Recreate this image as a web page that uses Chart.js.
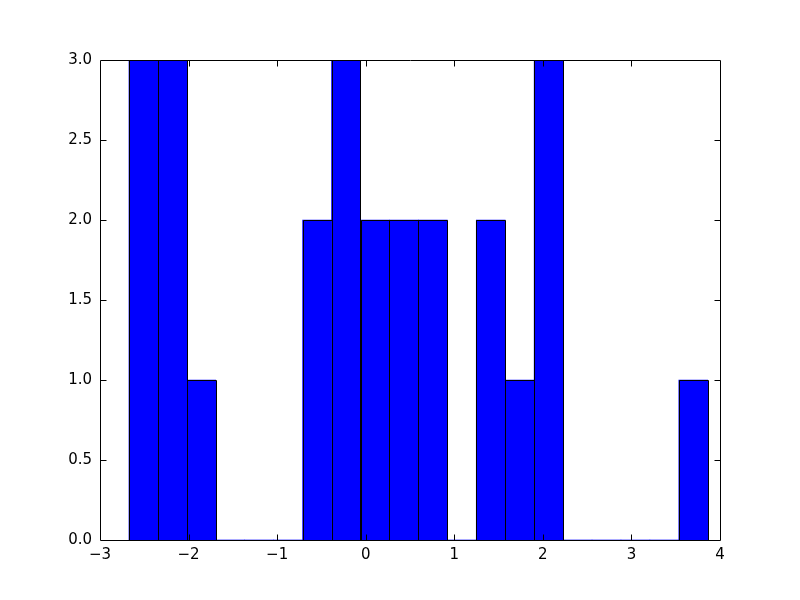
<!DOCTYPE html>
<html>
<head>
<meta charset="utf-8">
<script src="https://cdn.jsdelivr.net/npm/chart.js@4"></script>
<style>
  html, body { margin: 0; padding: 0; background: #fff; }
  #wrap { width: 800px; height: 600px; }
</style>
</head>
<body>
<div id="wrap"><canvas id="c" width="800" height="600"></canvas></div>
<script>
// Histogram bin edges
const binEdges = [-2.673, -2.346, -2.019, -1.693, -1.366, -1.039, -0.712, -0.386, -0.059, 0.268,
                  0.595, 0.921, 1.248, 1.575, 1.902, 2.228, 2.555, 2.882, 3.208, 3.535, 3.862];
// Counts per bin
const counts = [3, 3, 1, 0, 0, 0, 2, 3, 2, 2, 2, 0, 2, 1, 3, 0, 0, 0, 0, 1];
// Axis ticks
const xTicks = [-3, -2, -1, 0, 1, 2, 3, 4];
const yTicks = [0, 0.5, 1, 1.5, 2, 2.5, 3];

const points = counts.map((c, i) => ({ x: (binEdges[i] + binEdges[i + 1]) / 2, y: c }));

const FONT = { family: 'DejaVu Sans', size: 15 };

// Crisp 1px black outlines around each bar, taken from the bar elements
const barEdgePlugin = {
  id: 'barEdges',
  afterDatasetsDraw(chart) {
    const { ctx } = chart;
    const meta = chart.getDatasetMeta(0);
    ctx.save();
    ctx.strokeStyle = '#000';
    ctx.lineWidth = 1;
    meta.data.forEach((bar, i) => {
      if (!counts[i]) return;
      const p = bar.getProps(['x', 'y', 'base', 'width'], true);
      const l = Math.round(p.x - p.width / 2) + 0.5;
      const r = Math.round(p.x + p.width / 2) + 0.5;
      const t = Math.round(p.y) + 0.5;
      const b = Math.round(p.base) + 0.5;
      ctx.beginPath();
      ctx.rect(l, t, r - l, b - t);
      ctx.stroke();
    });
    ctx.restore();
  }
};

const framePlugin = {
  id: 'frame',
  afterDraw(chart) {
    const { ctx, chartArea: a, scales } = chart;
    ctx.save();
    ctx.strokeStyle = '#000';
    ctx.lineWidth = 1;
    const L = Math.round(a.left) + 0.5, R = Math.round(a.right) + 0.5;
    const T = Math.round(a.top) + 0.5, B = Math.round(a.bottom) + 0.5;
    ctx.beginPath();
    ctx.rect(L, T, R - L, B - T);
    ctx.stroke();
    const tl = 6;
    ctx.beginPath();
    xTicks.forEach(v => {
      const px = Math.round(scales.x.getPixelForValue(v)) + 0.5;
      if (px <= L || px >= R) return;
      ctx.moveTo(px, B); ctx.lineTo(px, B - tl);
      ctx.moveTo(px, T); ctx.lineTo(px, T + tl);
    });
    yTicks.forEach(v => {
      const py = Math.round(scales.y.getPixelForValue(v)) + 0.5;
      if (py <= T || py >= B) return;
      ctx.moveTo(L, py); ctx.lineTo(L + tl, py);
      ctx.moveTo(R, py); ctx.lineTo(R - tl, py);
    });
    ctx.stroke();
    ctx.restore();
  }
};

new Chart(document.getElementById('c'), {
  type: 'bar',
  data: {
    datasets: [{
      data: points,
      backgroundColor: '#0000ff',
      borderWidth: 0,
      barPercentage: 1,
      categoryPercentage: 1
    }]
  },
  options: {
    responsive: false,
    animation: false,
    devicePixelRatio: 1,
    layout: { padding: { left: 0, top: 60, right: 80, bottom: 0 } },
    plugins: { legend: { display: false }, tooltip: { enabled: false } },
    scales: {
      x: {
        type: 'linear',
        offset: false,
        min: -3, max: 4,
        afterFit(s) { s.height = 60; },
        afterBuildTicks(s) { s.ticks = xTicks.map(v => ({ value: v })); },
        grid: { display: false, drawTicks: false, offset: false },
        border: { display: false },
        ticks: {
          color: '#000', font: FONT, padding: 6, maxRotation: 0, autoSkip: false,
          callback: (v) => String(v).replace('-', '\u2212')
        }
      },
      y: {
        type: 'linear',
        min: 0, max: 3,
        afterFit(s) { s.width = 100; },
        afterBuildTicks(s) { s.ticks = yTicks.map(v => ({ value: v })); },
        grid: { display: false, drawTicks: false },
        border: { display: false },
        ticks: {
          color: '#000', font: FONT, padding: 8, autoSkip: false,
          callback: (v) => Number(v).toFixed(1)
        }
      }
    }
  },
  plugins: [barEdgePlugin, framePlugin]
});
</script>
</body>
</html>
